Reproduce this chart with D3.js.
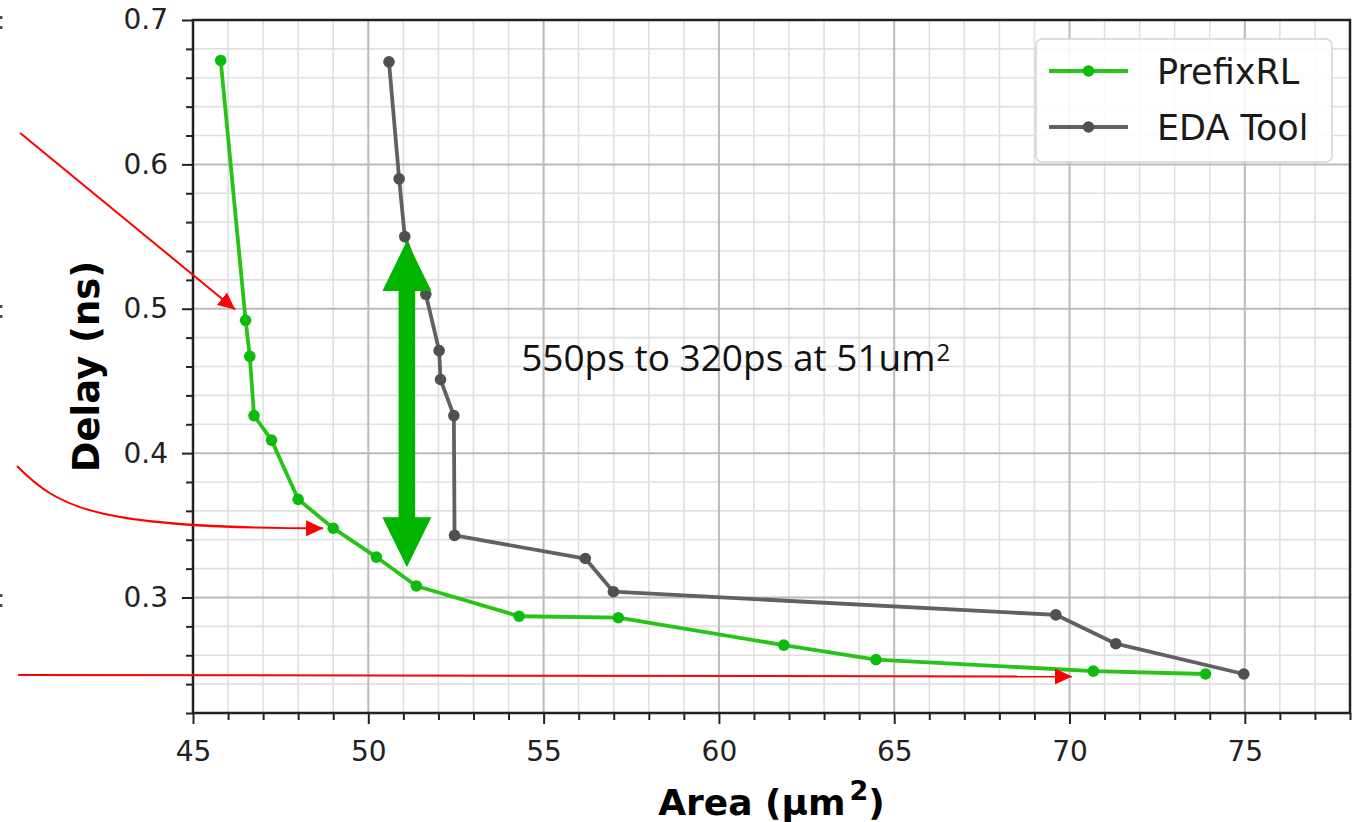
<!DOCTYPE html>
<html lang="en">
<head>
  <meta charset="utf-8">
  <title>PrefixRL vs EDA Tool</title>
  <script src="https://cdn.jsdelivr.net/npm/d3@7"></script>
  <style>
    html, body { margin: 0; padding: 0; background: #fff; }
    svg { display: block; }
    .tick text { font-family: "DejaVu Sans", sans-serif; fill: #222; }
  </style>
</head>
<body>
  <svg id="chart" width="1357" height="822"></svg>

  <script>
    // data
    var prefixArea  = [45.79, 46.50, 46.62, 46.74, 47.24, 48.00, 49.00, 50.23, 51.37, 54.30, 57.13, 61.85, 64.48, 70.68, 73.88];
    var prefixDelay = [0.672, 0.492, 0.467, 0.426, 0.409, 0.368, 0.348, 0.328, 0.308, 0.287, 0.286, 0.267, 0.257, 0.249, 0.247];
    var edaArea  = [50.59, 50.88, 51.04, 51.64, 52.02, 52.06, 52.44, 52.46, 56.19, 56.99, 69.61, 71.32, 74.97];
    var edaDelay = [0.671, 0.590, 0.550, 0.510, 0.471, 0.451, 0.426, 0.343, 0.327, 0.304, 0.288, 0.268, 0.247];

    var seriesNames = ["PrefixRL", "EDA Tool"];
    var xTickValues = [45, 50, 55, 60, 65, 70, 75];
    var yTickValues = [0.3, 0.4, 0.5, 0.6, 0.7];
    var xLabel = "Area (μm";
    var yLabel = "Delay (ns)";
    var noteText = "550ps to 320ps at 51um";

    // annotation anchors, in data units
    var gainArea = 51.1, gainFrom = 0.321, gainTo = 0.547;
    var noteAt = [54.36, 0.457];
    var straightArrow = [[40.07, 0.6217], [46.20, 0.4995]];
    var curvedArrow = [[39.98, 0.3911], [41.21, 0.3606], [42.35, 0.3481], [48.71, 0.3479]];
    var flatArrow = [[40.01, 0.2463], [70.07, 0.2453]];
    var edgeMarks = [0.7, 0.5, 0.3];

    var svg = d3.select("#chart");
    var pLeft = 193, pTop = 20, pRight = 1350, pBottom = 713;

    var x = d3.scaleLinear().domain([45, 78]).range([pLeft, pRight]);
    var y = d3.scaleLinear().domain([0.22, 0.7]).range([pBottom, pTop]);

    var xMinor = d3.range(45, 79).filter(function (v) { return v % 5 !== 0; });
    var yMinor = d3.range(11, 36).map(function (i) { return i / 50; })
      .filter(function (v) { return Math.abs(v * 10 - Math.round(v * 10)) > 1e-6; });

    // grid
    var grid = svg.append("g");
    grid.selectAll(".gxm").data(xMinor).enter().append("line")
      .attr("x1", function (d) { return x(d); }).attr("x2", function (d) { return x(d); })
      .attr("y1", pTop).attr("y2", pBottom)
      .attr("stroke", "#e0e0e0").attr("stroke-width", 1.6);
    grid.selectAll(".gym").data(yMinor).enter().append("line")
      .attr("y1", function (d) { return y(d); }).attr("y2", function (d) { return y(d); })
      .attr("x1", pLeft).attr("x2", pRight)
      .attr("stroke", "#e0e0e0").attr("stroke-width", 1.6);
    grid.selectAll(".gx").data(xTickValues).enter().append("line")
      .attr("x1", function (d) { return x(d); }).attr("x2", function (d) { return x(d); })
      .attr("y1", pTop).attr("y2", pBottom)
      .attr("stroke", "#bababa").attr("stroke-width", 2);
    grid.selectAll(".gy").data(yTickValues).enter().append("line")
      .attr("y1", function (d) { return y(d); }).attr("y2", function (d) { return y(d); })
      .attr("x1", pLeft).attr("x2", pRight)
      .attr("stroke", "#bababa").attr("stroke-width", 2);

    // axes
    svg.append("g").attr("transform", "translate(0," + pBottom + ")")
      .call(d3.axisBottom(x).tickValues(xTickValues).tickSize(11).tickPadding(17).tickFormat(d3.format("d")));
    svg.append("g").attr("transform", "translate(0," + pBottom + ")")
      .call(d3.axisBottom(x).tickValues(xMinor).tickSize(7).tickFormat(""));
    svg.append("g").attr("transform", "translate(" + pLeft + ",0)")
      .call(d3.axisLeft(y).tickValues(yTickValues).tickSize(11).tickPadding(14).tickFormat(d3.format(".1f")));
    svg.append("g").attr("transform", "translate(" + pLeft + ",0)")
      .call(d3.axisLeft(y).tickValues(yMinor).tickSize(7).tickFormat(""));

    svg.selectAll(".domain").remove();
    svg.selectAll(".tick line").attr("stroke", "#222").attr("stroke-width", 2);
    svg.selectAll(".tick text").style("font-size", "28px");

    // frame
    svg.append("rect")
      .attr("x", pLeft).attr("y", pTop)
      .attr("width", pRight - pLeft).attr("height", pBottom - pTop)
      .attr("fill", "none").attr("stroke", "#222").attr("stroke-width", 2.5);

    // series
    var prefixPts = prefixArea.map(function (a, i) { return [a, prefixDelay[i]]; });
    var edaPts = edaArea.map(function (a, i) { return [a, edaDelay[i]]; });
    var line = d3.line().x(function (d) { return x(d[0]); }).y(function (d) { return y(d[1]); });

    var series = [
      { name: seriesNames[0], pts: prefixPts, line: "#27c417", dot: "#0cbc0c" },
      { name: seriesNames[1], pts: edaPts, line: "#616161", dot: "#505050" }
    ];

    series.slice().reverse().forEach(function (s) {
      svg.append("path").datum(s.pts)
        .attr("d", line)
        .attr("fill", "none")
        .attr("stroke", s.line)
        .attr("stroke-width", 3.8)
        .attr("stroke-linejoin", "round");
      svg.append("g").selectAll("circle").data(s.pts).enter().append("circle")
        .attr("cx", function (d) { return x(d[0]); })
        .attr("cy", function (d) { return y(d[1]); })
        .attr("r", 5.8)
        .attr("fill", s.dot);
    });

    // red arrows
    var defs = svg.append("defs");
    defs.append("marker")
      .attr("id", "redhead")
      .attr("markerUnits", "userSpaceOnUse")
      .attr("viewBox", "0 0 17 16")
      .attr("refX", 17).attr("refY", 8)
      .attr("markerWidth", 17).attr("markerHeight", 16)
      .attr("orient", "auto")
      .append("path").attr("d", "M0,0 L17,8 L0,16 Z").attr("fill", "#ff0000");

    var red = svg.append("g")
      .attr("fill", "none").attr("stroke", "#ff0000").attr("stroke-width", 2);
    red.append("path")
      .attr("d", line(straightArrow))
      .attr("marker-end", "url(#redhead)");
    var c = curvedArrow.map(function (p) { return [x(p[0]), y(p[1])]; });
    red.append("path")
      .attr("d", "M" + c[0] + "C" + c[1] + " " + c[2] + " " + c[3])
      .attr("marker-end", "url(#redhead)");
    red.append("path")
      .attr("d", line(flatArrow))
      .attr("marker-end", "url(#redhead)");

    // green double arrow
    var gx = x(gainArea), gTop = y(gainTo), gBot = y(gainFrom);
    var head = 50, hw = 24.5, sw = 8.3;
    svg.append("path")
      .attr("d", [
        "M", gx, gTop,
        "L", gx + hw, gTop + head,
        "L", gx + sw, gTop + head,
        "L", gx + sw, gBot - head,
        "L", gx + hw, gBot - head,
        "L", gx, gBot,
        "L", gx - hw, gBot - head,
        "L", gx - sw, gBot - head,
        "L", gx - sw, gTop + head,
        "L", gx - hw, gTop + head, "Z"
      ].join(" "))
      .attr("fill", "#00b400");

    // note
    var note = svg.append("text")
      .attr("x", x(noteAt[0])).attr("y", y(noteAt[1]))
      .style("font-family", "'Open Sans', sans-serif")
      .style("font-size", "37px")
      .attr("fill", "#111");
    note.append("tspan").text(noteText);
    note.append("tspan").attr("dx", 1).attr("dy", -10).style("font-size", "24px").text("2");

    // legend
    var lg = svg.append("g");
    lg.append("rect")
      .attr("x", 1036).attr("y", 39).attr("width", 296).attr("height", 123)
      .attr("rx", 6)
      .attr("fill", "#fff").attr("fill-opacity", 0.85)
      .attr("stroke", "#d4d4d4").attr("stroke-width", 1.5);
    series.forEach(function (s, i) {
      var ly = 71 + i * 56;
      lg.append("line")
        .attr("x1", 1049).attr("x2", 1128).attr("y1", ly).attr("y2", ly)
        .attr("stroke", s.line).attr("stroke-width", 3.8);
      lg.append("circle").attr("cx", 1088.5).attr("cy", ly).attr("r", 5.8).attr("fill", s.dot);
      lg.append("text")
        .attr("x", 1157).attr("y", ly + 12.5)
        .style("font-family", "'DejaVu Sans', sans-serif")
        .style("font-size", "35px")
        .attr("fill", "#1a1a1a")
        .text(s.name);
    });

    // axis titles
    var xt = svg.append("text")
      .attr("x", (pLeft + pRight) / 2).attr("y", 815)
      .attr("text-anchor", "middle")
      .style("font-family", "'DejaVu Sans', sans-serif")
      .style("font-weight", "bold")
      .style("font-size", "36px")
      .attr("fill", "#000");
    xt.append("tspan").text(xLabel);
    xt.append("tspan").attr("dx", 4).attr("dy", -15).style("font-size", "27px").text("2");
    xt.append("tspan").attr("dy", 15).text(")");

    svg.append("text")
      .attr("transform", "translate(99," + ((pTop + pBottom) / 2) + ") rotate(-90)")
      .attr("text-anchor", "middle")
      .style("font-family", "'DejaVu Sans', sans-serif")
      .style("font-weight", "bold")
      .style("font-size", "37px")
      .attr("fill", "#000")
      .text(yLabel);

    // clipped colons at the left edge
    svg.append("g").selectAll("text").data(edgeMarks).enter().append("text")
      .attr("x", -3).attr("y", function (d) { return y(d) + 9; })
      .style("font-family", "'DejaVu Sans', sans-serif")
      .style("font-size", "24px")
      .attr("fill", "#444")
      .text(":");
  </script>
</body>
</html>
